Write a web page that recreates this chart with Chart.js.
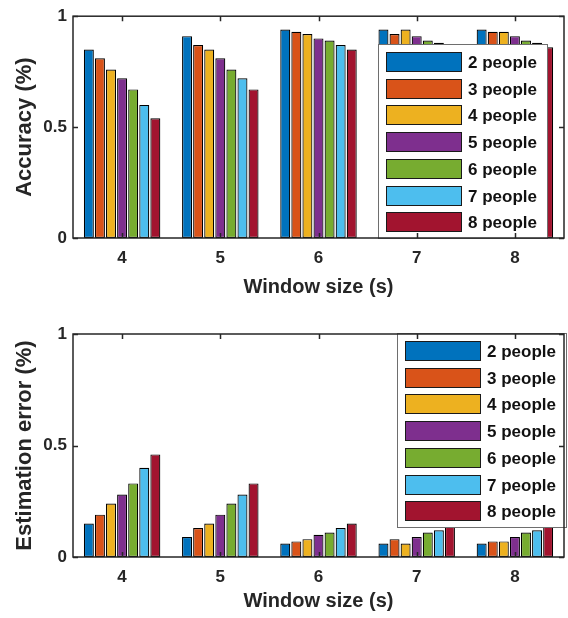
<!DOCTYPE html>
<html>
<head>
<meta charset="utf-8">
<title>Accuracy and estimation error by window size</title>
<script src="https://cdn.jsdelivr.net/npm/chart.js@4.4.1/dist/chart.umd.min.js"></script>
<style>
    body { margin: 0; background: #fff; }
    .panel { position: absolute; left: 0; width: 568px; height: 309px; }
    #panelTop { top: 0; }
    #panelBottom { top: 309px; }
</style>
</head>
<body>
<div class="panel" id="panelTop"><canvas id="accuracyChart" width="568" height="309"></canvas></div>
<div class="panel" id="panelBottom"><canvas id="errorChart" width="568" height="309"></canvas></div>

<script>
// ===== DATA =====
const windowSizes = ['4', '5', '6', '7', '8'];
const peopleLabels = ['2 people', '3 people', '4 people', '5 people', '6 people', '7 people', '8 people'];
const yTicks = [0, 0.5, 1];

// Accuracy, one array per number of people
const acc2 = [0.85, 0.91, 0.94, 0.94, 0.94];
const acc3 = [0.81, 0.87, 0.93, 0.92, 0.93];
const acc4 = [0.76, 0.85, 0.92, 0.94, 0.93];
const acc5 = [0.72, 0.81, 0.90, 0.91, 0.91];
const acc6 = [0.67, 0.76, 0.89, 0.89, 0.89];
const acc7 = [0.60, 0.72, 0.87, 0.88, 0.88];
const acc8 = [0.54, 0.67, 0.85, 0.86, 0.86];

// Estimation error, one array per number of people
const err2 = [0.15, 0.09, 0.06, 0.06, 0.06];
const err3 = [0.19, 0.13, 0.07, 0.08, 0.07];
const err4 = [0.24, 0.15, 0.08, 0.06, 0.07];
const err5 = [0.28, 0.19, 0.10, 0.09, 0.09];
const err6 = [0.33, 0.24, 0.11, 0.11, 0.11];
const err7 = [0.40, 0.28, 0.13, 0.12, 0.12];
const err8 = [0.46, 0.33, 0.15, 0.16, 0.15];

// MATLAB default colour order
const seriesColors = ['#0072BD', '#D95319', '#EDB120', '#7E2F8E', '#77AC30', '#4DBEEE', '#A2142F'];

const FONT = '"Liberation Sans", Arial, Helvetica, sans-serif';
const TEXT = '#262626';

// Build bar datasets from the arrays above
function makeDatasets(seriesList) {
    return seriesList.map((values, i) => ({
        label: peopleLabels[i],
        data: values,
        backgroundColor: seriesColors[i],
        borderColor: '#000',
        borderWidth: 1.2,
        borderSkipped: false,
        categoryPercentage: 0.79,
        barPercentage: 0.9
    }));
}

// Box legend drawn inside the plot area, MATLAB style
const boxLegend = {
    id: 'boxLegend',
    afterDraw(chart, args, opts) {
        const ctx = chart.ctx;
        const area = chart.chartArea;
        const w = 169, h = 194;
        const left = area.right + opts.dx;
        // anchor either to the bottom or the top of the axes
        const top = opts.anchor === 'bottom' ? area.bottom - h : area.top + opts.dy;

        ctx.save();
        ctx.fillStyle = '#fff';
        ctx.fillRect(left, top, w, h);
        ctx.strokeStyle = '#6e6e6e';
        ctx.lineWidth = 1;
        ctx.strokeRect(left + 0.5, top + 0.5, w, h);

        ctx.font = 'bold 17px ' + FONT;
        ctx.textBaseline = 'middle';
        ctx.textAlign = 'left';
        chart.data.datasets.forEach((ds, i) => {
            const y = Math.round(top + 8 + i * 26.7);
            ctx.fillStyle = ds.backgroundColor;
            ctx.fillRect(left + 8, y, 76, 20);
            ctx.strokeStyle = '#1a1a1a';
            ctx.strokeRect(left + 8.5, y + 0.5, 75, 19);
            ctx.fillStyle = '#111';
            ctx.fillText(ds.label, left + 90, y + 11);
        });
        ctx.restore();
    }
};

// Axes box with inward ticks on all four sides
const axesBox = {
    id: 'axesBox',
    afterDraw(chart) {
        const ctx = chart.ctx;
        const a = chart.chartArea;
        const xs = chart.scales.x;
        const ys = chart.scales.y;
        const len = 5;

        ctx.save();
        ctx.strokeStyle = TEXT;
        ctx.lineWidth = 1.5;
        ctx.strokeRect(a.left, a.top, a.right - a.left, a.bottom - a.top);

        ctx.beginPath();
        windowSizes.forEach((lab, i) => {
            const x = Math.round(xs.getPixelForValue(i)) + 0.5;
            ctx.moveTo(x, a.bottom); ctx.lineTo(x, a.bottom - len);
            ctx.moveTo(x, a.top); ctx.lineTo(x, a.top + len);
        });
        yTicks.forEach(v => {
            const y = Math.round(ys.getPixelForValue(v)) + 0.5;
            ctx.moveTo(a.left, y); ctx.lineTo(a.left + len, y);
            ctx.moveTo(a.right, y); ctx.lineTo(a.right - len, y);
        });
        ctx.stroke();
        ctx.restore();
    }
};

// Create one bar panel
function createPanel(canvasId, seriesList, yTitle, layout) {
    const ctx = document.getElementById(canvasId);
    if (!ctx) return;

    new Chart(ctx, {
        type: 'bar',
        data: {
            labels: windowSizes,
            datasets: makeDatasets(seriesList)
        },
        options: {
            responsive: false,
            animation: false,
            devicePixelRatio: 1,
            layout: { padding: { top: layout.top, right: 4, left: 0, bottom: 0 } },
            plugins: {
                legend: { display: false },
                tooltip: { enabled: false },
                boxLegend: layout.legend
            },
            scales: {
                x: {
                    grid: { display: false, drawTicks: false },
                    border: { display: false },
                    ticks: {
                        padding: 10,
                        color: TEXT,
                        font: { family: FONT, size: 17, weight: 'bold' }
                    },
                    title: {
                        display: true,
                        text: 'Window size (s)',
                        color: TEXT,
                        padding: { top: 0, bottom: layout.xTitlePad },
                        font: { family: FONT, size: 20, weight: 'bold' }
                    },
                    afterFit(scale) { scale.height = layout.xHeight; }
                },
                y: {
                    min: 0,
                    max: 1,
                    grid: { display: false, drawTicks: false },
                    border: { display: false },
                    afterBuildTicks(scale) {
                        scale.ticks = yTicks.map(v => ({ value: v }));
                    },
                    ticks: {
                        padding: 6,
                        color: TEXT,
                        font: { family: FONT, size: 17, weight: 'bold' },
                        callback: v => String(v)
                    },
                    title: {
                        display: true,
                        text: yTitle,
                        color: TEXT,
                        padding: { top: 12, bottom: 0 },
                        font: { family: FONT, size: 22, weight: 'bold' }
                    },
                    afterFit(scale) { scale.width = 73; }
                }
            }
        },
        plugins: [boxLegend, axesBox]
    });
}

document.addEventListener('DOMContentLoaded', function() {
    if (typeof Chart === 'undefined') {
        console.log('Chart.js not loaded');
        return;
    }

    createPanel('accuracyChart', [acc2, acc3, acc4, acc5, acc6, acc7, acc8], 'Accuracy (%)',
        { top: 11, xHeight: 71, xTitlePad: 10, legend: { dx: -186, anchor: 'bottom' } });

    createPanel('errorChart', [err2, err3, err4, err5, err6, err7, err8], 'Estimation error (%)',
        { top: 25, xHeight: 61, xTitlePad: 5, legend: { dx: -167, dy: -1, anchor: 'top' } });
});
</script>
</body>
</html>
